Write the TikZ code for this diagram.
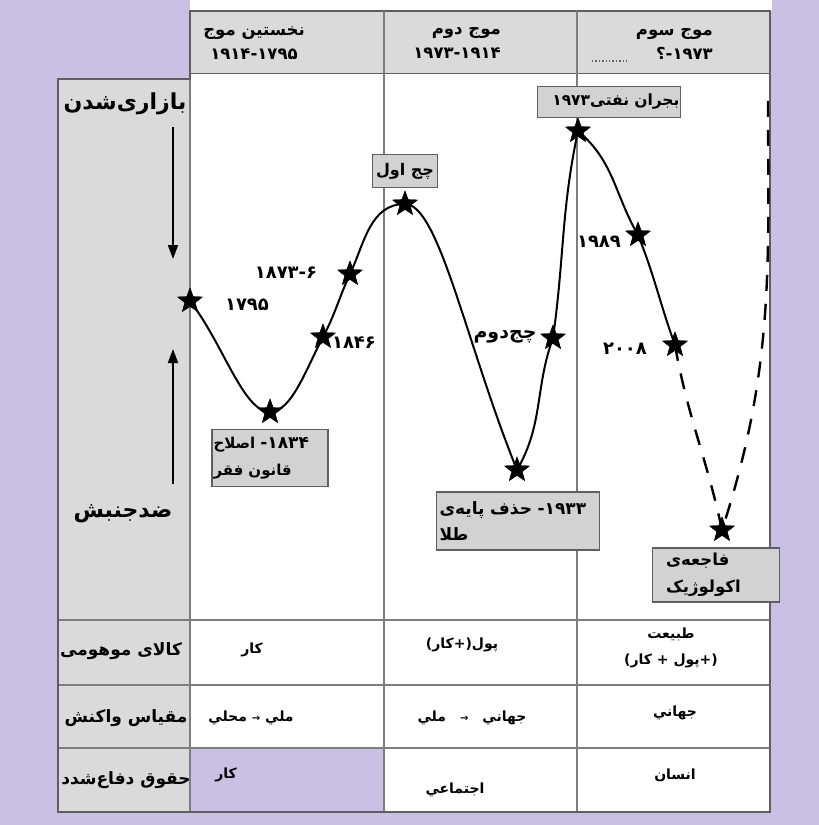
\documentclass[tikz,border=0pt]{standalone}
\usepackage{fontspec}
\usetikzlibrary{shapes.geometric,arrows.meta}
\newfontfamily\fab[Script=Arabic]{DejaVu Sans Bold}
\newfontfamily\lat{DejaVu Sans Bold}
\TeXXeTstate=1
\definecolor{lav}{RGB}{201,192,228}
\definecolor{cellgray}{RGB}{218,218,218}
\definecolor{boxgray}{RGB}{210,210,210}
\definecolor{linegray}{RGB}{125,125,125}
\definecolor{edgegray}{RGB}{95,95,95}
\begin{document}
\begin{tikzpicture}[x=1pt,y=-1pt,
  hdr/.style={font=\fontsize{16.5}{24}\selectfont, inner sep=0pt},
  big/.style={font=\fab\fontsize{22}{26}\selectfont, inner sep=0pt},
  side/.style={font=\fab\fontsize{17}{20}\selectfont, inner sep=0pt},
  cell/.style={font=\fab\fontsize{14}{26}\selectfont, inner sep=0pt, align=center},
  num/.style={font=\lat\fontsize{18}{20}\selectfont, inner sep=0pt},
  lbl/.style={draw=edgegray, line width=1.6pt, fill=boxgray, inner sep=0pt,
    font=\fab\fontsize{17}{26}\selectfont},
  starnode/.style={star, star points=5, star point ratio=2.4, fill=black, inner sep=0pt, minimum size=27pt},
  curve/.style={line width=2pt},
  dashcurve/.style={line width=2.4pt, dash pattern=on 16pt off 13pt},
  varrow/.style={line width=1.8pt, -{Triangle[length=14pt,width=10pt]}},
]
\useasboundingbox (0,0) rectangle (819,825);
\fill[lav] (0,0) rectangle (819,825);
\fill[white] (190,0) rectangle (772,11);
% header
\draw[edgegray, line width=1.5pt, fill=cellgray] (190,11) rectangle (770,74);
\draw[linegray, line width=1.2pt] (384,11) -- (384,74) (577,11) -- (577,74);
% main table
\fill[white] (190,74) rectangle (770,812);
\fill[cellgray] (58,79) rectangle (190,812);
\fill[lav] (190,748) rectangle (384,812);
\draw[linegray, line width=1.2pt] (384,74) -- (384,812) (577,74) -- (577,812)
  (58,620) -- (770,620) (58,685) -- (770,685) (58,748) -- (770,748) (190,79) -- (190,812);
\draw[edgegray, line width=1.5pt] (190,74) -- (190,79) -- (58,79) -- (58,812) -- (770,812) -- (770,74);
\draw[black!60, line width=1.4pt, dotted] (592,61) -- (628,61);

% header texts
\node[hdr, align=center] (h1) at (254,43) {{\fab\beginR نخستین موج\endR}\\{\lat ۱۹۱۴-۱۷۹۵}};
\node[hdr, align=right, anchor=east] (h2) at (501,43) {{\fab\beginR موج دوم\endR}\\{\lat ۱۹۷۳-۱۹۱۴}};
\node[hdr, align=right, anchor=east] (h3) at (713,44)
  {{\fab\beginR موج سوم\endR}\\{\fab\beginR{\lat\beginL-۱۹۷۳\endL}؟\endR}};

% left column
\node[big] (mk) at (125,104) {بازاری‌شدن};
\node[big] (cm) at (123,514) {ضدجنبش};
\coordinate (dA) at (173,127);
\coordinate (dB) at (173,259);
\coordinate (uA) at (173,484);
\coordinate (uB) at (173,349);
\draw[varrow] (dA) -- (dB);
\draw[varrow] (uA) -- (uB);

% stars
\node[starnode] (s1795) at (190,301) {};
\node[starnode] (s1834) at (270,412) {};
\node[starnode] (s1846) at (323,337) {};
\node[starnode] (s1873) at (350,274) {};
\node[starnode] (w1) at (405,204) {};
\node[starnode] (s1933) at (517,470) {};
\node[starnode] (w2) at (553,338) {};
\node[starnode] (s1973) at (578,131) {};
\node[starnode] (s1989) at (638,235) {};
\node[starnode] (s2008) at (675,345) {};
\node[starnode] (eco) at (722,530) {};
\coordinate (top) at (768,88);

% curve
\draw[curve] (s1795.center) to[out=-52,in=180,in looseness=0.5] (s1834.center)
  to[out=0,in=-118,out looseness=0.6] (s1846.center)
  to[out=62,in=-115] (s1873.center)
  to[out=65,in=180] (w1.center)
  to[out=0,in=112,out looseness=0.3,in looseness=1.2] (s1933.center)
  to[out=60,in=-110] (w2.center)
  to[out=82,in=-102] (s1973.center)
  to[out=-40,in=120] (s1989.center)
  to[out=-68,in=110] (s2008.center);
\draw[dashcurve] (s2008.center) to[out=-80,in=102] (eco.center)
  to[out=72,in=-90] (top);
% stars on top of the curve
\foreach \s in {s1795,s1834,s1846,s1873,w1,s1933,w2,s1973,s1989,s2008,eco}
  \node[starnode] at (\s.center) {};

% point labels
\node[num] (l1795) at (247,305) {۱۷۹۵};
\node[num] (l1873) at (286,273) {۱۸۷۳-۶};
\node[num] (l1846) at (354,343) {۱۸۴۶};
\node[num] (l1989) at (599,242) {۱۹۸۹};
\node[num] (l2008) at (625,349) {۲۰۰۸};
\node[font=\fab\fontsize{19}{20}\selectfont, inner sep=0pt] (lw2) at (505,337) {چج‌دوم};

% label boxes
\node[lbl, minimum width=116pt, minimum height=57pt, text width=113pt, align=left,
  font=\fab\fontsize{15}{27}\selectfont] (b1834) at (270,458)
  {\beginR{\lat\fontsize{17}{17}\selectfont\beginL-۱۸۳۴\endL} اصلاح\endR\\\beginR قانون فقر\endR};
\node[lbl, minimum width=163pt, minimum height=58pt, text width=157pt, align=left] (b1933) at (518,521)
  {\beginR{\lat\beginL-۱۹۳۳\endL} حذف پایه‌ی\endR\\\beginR طلا\endR};
\node[lbl, minimum width=65pt, minimum height=33pt, font=\fab\fontsize{16}{20}\selectfont] (bw1) at (405,171)
  {\beginR چج اول\endR};
\node[lbl, minimum width=143pt, minimum height=31pt, text width=141pt, align=right,
  font=\fab\fontsize{15.5}{20}\selectfont] (b1973) at (609,102)
  {\beginR بجران نفتی{\lat\beginL۱۹۷۳\endL}\endR};
\node[lbl, minimum width=127pt, minimum height=54pt, text width=100pt, align=left,
  font=\fab\fontsize{16.5}{27}\selectfont] (beco) at (716,575)
  {فاجعه‌ی\\اکولوژیک};

% table row texts
\node[side] (r1) at (121,651) {\beginR کالای موهومی\endR};
\node[side] (r2) at (126,718) {\beginR مقیاس واکنش\endR};
\node[side] (r3) at (126,780) {\beginR حقوق دفاع‌شدد\endR};

\node[cell] (c11) at (252,650) {کار};
\node[cell] (c12) at (462,645) {\beginR پول(+کار)\endR};
\node[cell] (c13) at (671,648) {طبیعت\\\beginR(+پول + کار)\endR};
\node[cell] (c21) at (251,718) {\beginR ملي {\lat\fontsize{10}{10}\selectfont →} محلي\endR};
\node[cell] (c22) at (472,718) {\beginR جهاني\quad{\lat\fontsize{10}{10}\selectfont →}\quad ملي\endR};
\node[cell] (c23) at (675,713) {جهاني};
\node[cell] (c31) at (226,775) {کار};
\node[cell] (c32) at (455,790) {اجتماعي};
\node[cell] (c33) at (675,775) {انسان};
\end{tikzpicture}
\end{document}
